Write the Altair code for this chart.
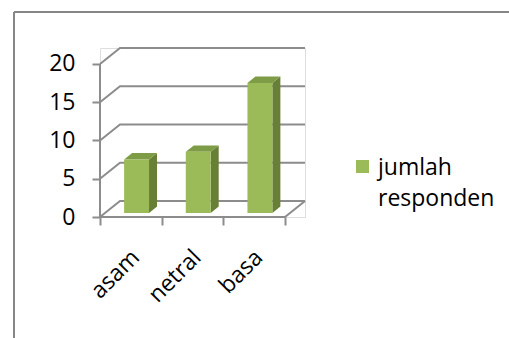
import altair as alt
import pandas as pd

# ---- data ----
categories = ["asam", "netral", "basa"]
values = [7, 8, 17]
y_ticks = [0, 5, 10, 15, 20]
series_name = "jumlah responden"

# ---- 3D geometry (style constants, in data units) ----
WALL_DX = 0.3243      # depth shift of the back wall along x
WALL_DY = 2.0915      # depth shift of the back wall along y
BAR_LEFT, BAR_RIGHT = 0.31, 0.714
F_FRONT, F_BACK = 0.25, 0.65
N = len(categories)
XMAX = N + WALL_DX
YMAX = max(y_ticks) + WALL_DY

FRONT = "#9BBB59"
SIDE = "#677F37"
TOP = "#7E9C45"
GRID = "#8C8C8C"
FONT = "Open Sans"
FS = 23

front_rows, side_rows, top_rows, label_rows = [], [], [], []
for i, (c, v) in enumerate(zip(categories, values)):
    front_rows.append({
        "cat": c, "series": series_name,
        "x0": i + BAR_LEFT + F_FRONT * WALL_DX,
        "x1": i + BAR_RIGHT + F_FRONT * WALL_DX,
        "y0": F_FRONT * WALL_DY, "y1": v + F_FRONT * WALL_DY,
    })
    label_rows.append({"cat": c, "xc": i + 0.5, "y": 0})
    for f in (F_FRONT, F_BACK):
        side_rows.append({"cat": c, "x": i + BAR_RIGHT + f * WALL_DX,
                          "lo": f * WALL_DY, "hi": v + f * WALL_DY})
        top_rows.append({"cat": c, "y": v + f * WALL_DY,
                         "xlo": i + BAR_LEFT + f * WALL_DX,
                         "xhi": i + BAR_RIGHT + f * WALL_DX})

grid_rows = []
for t in y_ticks:
    for k, (gx, gy) in enumerate([(0, t), (WALL_DX, t + WALL_DY), (XMAX, t + WALL_DY)]):
        grid_rows.append({"g": f"g{t}", "k": k, "x": gx, "y": gy})
for k, (gx, gy) in enumerate([(0, 0), (N, 0), (XMAX, WALL_DY)]):
    grid_rows.append({"g": "floor", "k": k, "x": gx, "y": gy})
for k, (gx, gy) in enumerate([(0, 0), (0, max(y_ticks))]):
    grid_rows.append({"g": "axis", "k": k, "x": gx, "y": gy})

front_df = pd.DataFrame(front_rows)
side_df = pd.DataFrame(side_rows)
top_df = pd.DataFrame(top_rows)
grid_df = pd.DataFrame(grid_rows)
label_df = pd.DataFrame(label_rows)

xscale = alt.Scale(domain=[0, XMAX], nice=False, zero=False)
yscale = alt.Scale(domain=[0, YMAX], nice=False, zero=False)

x_axis = alt.Axis(
    values=list(range(N + 1)), labels=False, domain=False, grid=False,
    tickSize=8, tickWidth=2, tickColor=GRID, title=None,
)
y_axis = alt.Axis(
    values=y_ticks, domain=False, grid=False, tickSize=8, tickWidth=2,
    tickColor=GRID, labelFontSize=FS, labelFont=FONT, labelColor="black",
    labelPadding=17, title=None,
)

grid = alt.Chart(grid_df).mark_line(color=GRID, strokeWidth=2).encode(
    x=alt.X("x:Q", scale=xscale, axis=x_axis),
    y=alt.Y("y:Q", scale=yscale, axis=y_axis),
    detail="g:N",
    order="k:Q",
)

front = alt.Chart(front_df).mark_rect().encode(
    x=alt.X("x0:Q", scale=xscale), x2="x1:Q",
    y=alt.Y("y0:Q", scale=yscale), y2="y1:Q",
    color=alt.Color(
        "series:N",
        scale=alt.Scale(range=[FRONT]),
        legend=alt.Legend(
            title=None, orient="none", legendX=251, legendY=97,
            symbolType="M-1,0.54H1V2.54H-1Z", symbolSize=169, symbolStrokeWidth=0,
            labelFont=FONT, labelFontSize=FS, labelColor="black",
            labelLimit=0, labelOffset=4, padding=0,
            labelExpr="split(datum.label, ' ')",
            labelBaseline="top",
        ),
    ),
)

side = alt.Chart(side_df).mark_area(orient="vertical", color=SIDE).encode(
    x=alt.X("x:Q", scale=xscale), y=alt.Y("lo:Q", scale=yscale), y2="hi:Q",
    detail="cat:N",
)

top = alt.Chart(top_df).mark_area(orient="horizontal", color=TOP).encode(
    y=alt.Y("y:Q", scale=yscale), x=alt.X("xlo:Q", scale=xscale), x2="xhi:Q",
    detail="cat:N",
)

cat_labels = alt.Chart(label_df).mark_text(
    angle=315, align="right", baseline="middle", font=FONT, fontSize=FS,
    color="black", xOffset=5, yOffset=37,
).encode(
    x=alt.X("xc:Q", scale=xscale), y=alt.Y("y:Q", scale=yscale), text="cat:N"
)

frame_df = pd.DataFrame({"a": [0]})
frame_left = alt.Chart(frame_df).mark_rule(color="#868686", strokeWidth=2).encode(
    x=alt.value(-86), y=alt.value(-36), y2=alt.value(300)
)
frame_top = alt.Chart(frame_df).mark_rule(color="#868686", strokeWidth=2).encode(
    x=alt.value(-86), x2=alt.value(420), y=alt.value(-36)
)

chart = alt.layer(grid, side, top, front, cat_labels, frame_left, frame_top).properties(
    width=205, height=169,
    autosize=alt.AutoSizeParams(type="none"),
    padding={"left": 100, "top": 48, "right": 204, "bottom": 121},
    background="white",
).configure_view(stroke=None).configure(
    style={"guide-label": {"lineHeight": 31}}
)

chart.save("out.html", embed_options={"renderer": "svg", "actions": False})
